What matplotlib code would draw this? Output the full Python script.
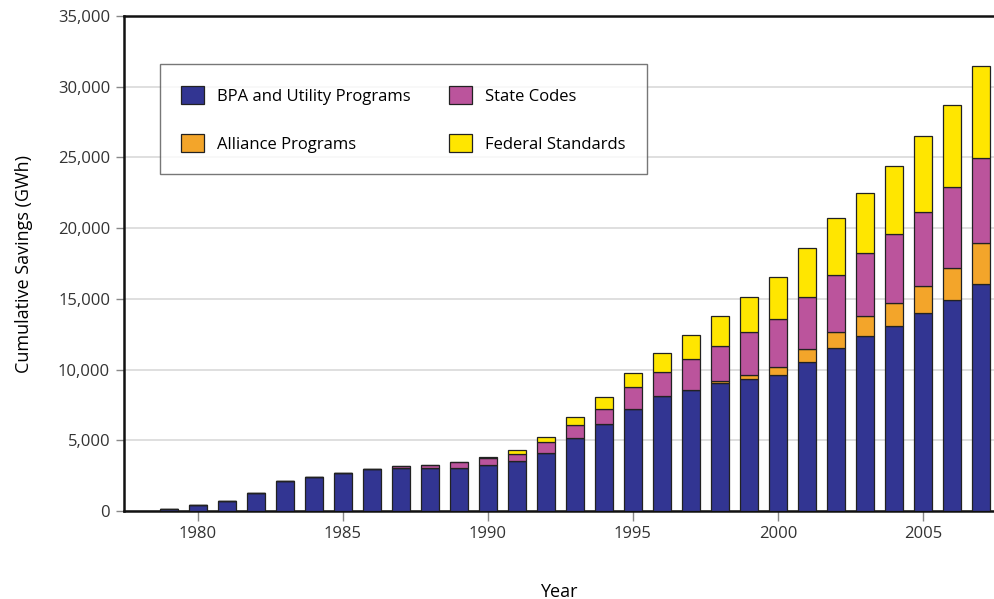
import numpy as np
import matplotlib.pyplot as plt
from matplotlib.ticker import FuncFormatter

plt.rcParams['font.family'] = ['Open Sans', 'DejaVu Sans']

years = list(range(1979, 2008))
bpa = [150, 400, 700, 1250, 2120, 2400, 2690, 2970, 3050, 3040, 3020, 3250,
       3535, 4080, 5140, 6130, 7210, 8130, 8580, 9070, 9310, 9620, 10560,
       11500, 12370, 13080, 13980, 14920, 16050]
alliance = [0, 0, 0, 0, 0, 0, 0, 0, 0, 0, 0, 0,
            0, 0, 0, 0, 0, 0, 0, 100, 300, 590, 870,
            1130, 1410, 1650, 1930, 2240, 2920]
state = [0, 0, 0, 0, 0, 0, 0, 0, 100, 200, 420, 480,
         516, 780, 960, 1084, 1555, 1697, 2170, 2475, 3020, 3370, 3720,
         4080, 4480, 4830, 5250, 5750, 6010]
federal = [0, 0, 0, 0, 0, 0, 0, 0, 0, 0, 0, 80,
           260, 375, 565, 872, 1010, 1370, 1700, 2120, 2520, 2950, 3465,
           3990, 4240, 4850, 5350, 5800, 6500]

series = [
    ('BPA and Utility Programs', bpa, '#323592'),
    ('Alliance Programs', alliance, '#f3a52a'),
    ('State Codes', state, '#bb549c'),
    ('Federal Standards', federal, '#ffe600'),
]

fig = plt.figure(figsize=(9.94, 5.99), dpi=100)
ax = fig.add_axes([0.1247, 0.1469, 0.8753, 0.8264])

bottom = np.zeros(len(years))
for name, vals, color in series:
    vals = np.array(vals, dtype=float)
    ax.bar(years, vals, width=0.62, bottom=bottom, color=color,
           edgecolor='#222222', linewidth=0.9, label=name, zorder=3)
    bottom += vals

ax.set_xlim(1977.45, 2007.45)
ax.set_ylim(0, 35000)
ax.set_yticks(np.arange(0, 35001, 5000))
ax.yaxis.set_major_formatter(FuncFormatter(lambda v, p: f'{int(v):,}'))
ax.set_xticks([1980, 1985, 1990, 1995, 2000, 2005])
ax.grid(axis='y', color='#d9d9d9', linewidth=1.2, zorder=0)

ax.spines['right'].set_visible(False)
for s in ['left', 'bottom', 'top']:
    ax.spines[s].set_linewidth(1.8)
    ax.spines[s].set_color('#111111')

ax.tick_params(axis='y', length=6, width=1, color='#888888',
               labelsize=12, labelcolor='#333333', pad=4)
ax.tick_params(axis='x', length=7, width=1, color='#888888',
               labelsize=12, labelcolor='#333333', pad=4)

ax.set_xlabel('Year', fontsize=13, labelpad=29)
ax.set_ylabel('Cumulative Savings (GWh)', fontsize=13, labelpad=18)

leg = ax.legend(loc='upper left', bbox_to_anchor=(0.041, 0.903), ncol=2,
                fontsize=12, frameon=True, fancybox=False,
                edgecolor='#555555', borderpad=1.3, labelspacing=1.75,
                handlelength=1.35, handleheight=1.35, handletextpad=0.8,
                columnspacing=2.3, borderaxespad=0)
leg.get_frame().set_linewidth(1.0)

fig.savefig('out.png', dpi=100)
